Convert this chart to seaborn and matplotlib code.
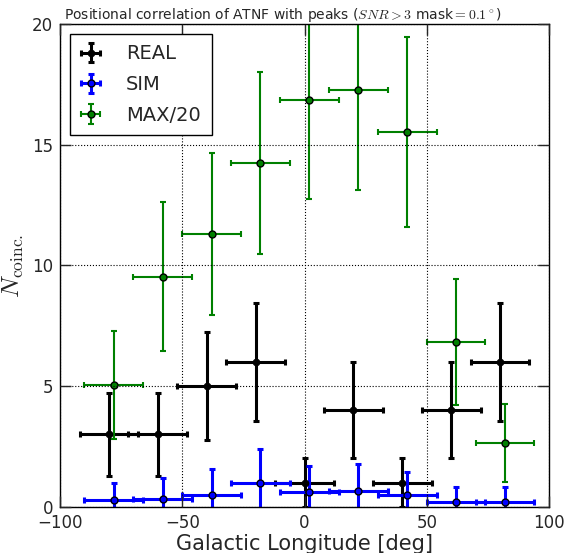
import numpy as np
import seaborn as sns
import matplotlib
matplotlib.use('Agg')
import matplotlib.pyplot as plt

# Values
real_lon = [-80, -60, -40, -20, 0, 20, 40, 60, 80]
real_n = [3, 3, 5, 6, 1, 4, 1, 4, 6]
real_err = [1.73, 1.73, 2.24, 2.45, 1.0, 2.0, 1.0, 2.0, 2.45]

sim_lon = [-78, -58, -38, -18, 2, 22, 42, 62, 82]
sim_n = [0.27, 0.32, 0.50, 0.97, 0.61, 0.64, 0.48, 0.19, 0.18]
sim_err = [0.73, 0.86, 1.06, 1.42, 1.09, 1.12, 0.96, 0.64, 0.62]

max_lon = [-78, -58, -38, -18, 2, 22, 42, 62, 82]
max_n = [5.03, 9.53, 11.29, 14.24, 16.84, 17.28, 15.53, 6.84, 2.64]
max_err = [2.24, 3.09, 3.36, 3.77, 4.10, 4.16, 3.94, 2.61, 1.62]

lon_halfwidth = 12

sns.set_theme(style='white', rc={
    'axes.edgecolor': 'black',
    'axes.linewidth': 1.0,
    'axes.grid': True,
    'grid.color': 'black',
    'grid.linestyle': ':',
    'grid.linewidth': 0.8,
    'xtick.direction': 'in',
    'ytick.direction': 'in',
    'xtick.top': True,
    'ytick.right': True,
    'xtick.bottom': True,
    'ytick.left': True,
    'xtick.major.size': 8,
    'ytick.major.size': 8,
    'xtick.major.width': 1.0,
    'ytick.major.width': 1.0,
    'xtick.major.pad': 5,
    'ytick.major.pad': 5,
    'mathtext.fontset': 'cm',
})
plt.rcParams['font.family'] = ['DejaVu Sans']

fig = plt.figure(figsize=(5.68, 5.53), dpi=100)
ax = fig.add_axes([0.1056, 0.0837, 0.861, 0.8729])

ax.errorbar(real_lon, real_n, xerr=lon_halfwidth, yerr=real_err, fmt='o',
            color='black', mfc='black', mec='black', ms=4.5, elinewidth=2.2,
            capsize=2.5, capthick=2.2, label='REAL')
ax.errorbar(sim_lon, sim_n, xerr=lon_halfwidth, yerr=sim_err, fmt='o',
            color='blue', mfc='blue', mec='black', ms=5, elinewidth=2.2,
            capsize=2.5, capthick=2.2, label='SIM')
ax.errorbar(max_lon, max_n, xerr=lon_halfwidth, yerr=max_err, fmt='o',
            color='green', mfc='green', mec='black', ms=5, elinewidth=1.5,
            capsize=2.5, capthick=1.5, label='MAX/20')

ax.set_xlim(-100, 100)
ax.set_ylim(0, 20)
ax.set_xticks([-100, -50, 0, 50, 100])
ax.set_yticks([0, 5, 10, 15, 20])
ax.tick_params(labelsize=12)
ax.set_axisbelow(False)

ax.set_xlabel('Galactic Longitude [deg]', fontsize=15, labelpad=2)
ax.set_ylabel(r'$N_{\rm coinc.}$', fontsize=18, labelpad=4)
ax.set_title(r'Positional correlation of ATNF with peaks ($SNR>3$ mask$=0.1^\circ$)',
             fontsize=10, pad=2, x=0.455)

leg = ax.legend(loc='upper left', fontsize=14, fancybox=False, framealpha=1,
                edgecolor='black', handlelength=1.05, borderpad=0.55,
                handletextpad=1.3, labelspacing=0.6, borderaxespad=0.5)
leg.get_frame().set_linewidth(1.0)

fig.savefig('out.png', dpi=100)
